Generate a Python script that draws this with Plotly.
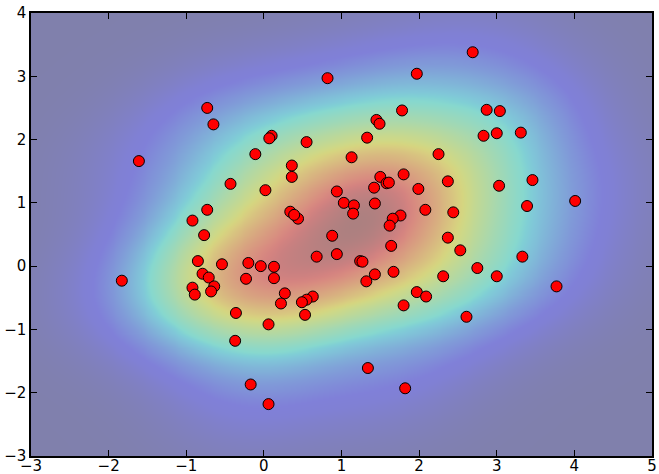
import numpy as np
import plotly.graph_objects as go

x_pts = [2.69, 0.82, 1.97, -0.73, -0.65, 2.87, 3.04, 1.78, 1.45, 1.49,
         2.83, 3.00, 3.31, 0.10, 0.07, 1.33, 0.55, -1.61, -0.11, 2.25,
         1.13, 0.36, 0.36, 1.80, 1.50, 1.58, 1.61, 2.37, -0.43, 1.42,
         3.46, 3.03, 1.99, 0.02, 0.94, 4.01, 1.03, 1.16, 1.43, 3.39,
         -0.73, 2.08, 2.44, 0.34, 0.44, 0.39, 1.15, 1.76, 1.66, -0.92,
         1.62, -0.77, 0.88, 2.37, 1.64, 2.53, 0.94, 0.68, -0.85, 1.24,
         1.27, -0.54, -0.20, -0.04, 0.13, -0.79, -0.71, -0.23, 0.13, 1.43,
         1.67, 1.32, 2.75, 3.33, 3.00, 2.31, 3.77, -1.83, -0.92, -0.64,
         -0.89, -0.68, 0.27, 1.97, 2.09, 0.63, 0.55, 0.49, 0.22, 1.80,
         0.53, 2.61, -0.36, 0.06, -0.37, 1.34, -0.17, 1.82, 0.06]
y_pts = [3.38, 2.97, 3.04, 2.50, 2.24, 2.47, 2.45, 2.46, 2.31, 2.25,
         2.06, 2.10, 2.11, 2.06, 2.02, 2.03, 1.96, 1.66, 1.77, 1.77,
         1.72, 1.59, 1.41, 1.45, 1.41, 1.31, 1.32, 1.34, 1.30, 1.24,
         1.36, 1.27, 1.22, 1.20, 1.18, 1.03, 1.00, 0.96, 0.99, 0.95,
         0.89, 0.89, 0.85, 0.86, 0.75, 0.81, 0.83, 0.80, 0.75, 0.72,
         0.64, 0.49, 0.48, 0.45, 0.32, 0.25, 0.19, 0.15, 0.08, 0.08,
         0.07, 0.03, 0.05, 0.00, -0.01, -0.12, -0.18, -0.20, -0.19, -0.13,
         -0.09, -0.24, -0.03, 0.15, -0.16, -0.16, -0.32, -0.23, -0.34, -0.32,
         -0.45, -0.40, -0.43, -0.41, -0.48, -0.48, -0.53, -0.57, -0.59, -0.62,
         -0.77, -0.80, -0.74, -0.92, -1.18, -1.61, -1.87, -1.93, -2.18]

x_ticks = [-3, -2, -1, 0, 1, 2, 3, 4, 5]
y_ticks = [-3, -2, -1, 0, 1, 2, 3, 4]

# Gaussian KDE evaluated on a grid
X = np.array(x_pts); Y = np.array(y_pts)
data = np.vstack([X, Y])
n = data.shape[1]
factor = n ** (-1.0 / 6) * 1.3
cov = np.cov(data) * factor ** 2
inv = np.linalg.inv(cov)
gx = np.linspace(-3, 5, 161)
gy = np.linspace(-3, 4, 141)
GX, GY = np.meshgrid(gx, gy)
pts = np.stack([GX.ravel(), GY.ravel()])
Z = np.zeros(pts.shape[1])
for i in range(n):
    d = pts - data[:, i:i+1]
    Z += np.exp(-0.5 * np.einsum('ij,ik,kj->j', d, inv, d))
Z = Z.reshape(GX.shape)

def jetc(v):
    r = np.interp(v, [0, 0.35, 0.66, 0.89, 1], [0, 0, 1, 1, 0.5])
    g = np.interp(v, [0, 0.125, 0.375, 0.64, 0.91, 1], [0, 0, 1, 1, 0, 0])
    b = np.interp(v, [0, 0.11, 0.34, 0.65, 1], [0.5, 1, 1, 0, 0])
    f = lambda c: int(round(128 + 88 * c))
    return f"rgb({f(r)},{f(g)},{f(b)})"

stops = np.linspace(0, 1, 41)
cscale = [[float(s), jetc(s)] for s in stops]

fig = go.Figure()
fig.add_trace(go.Heatmap(x=gx, y=gy, z=Z, colorscale=cscale, showscale=False,
                         zsmooth='best', hoverinfo='skip'))
fig.add_trace(go.Scatter(x=x_pts, y=y_pts, mode='markers',
                         marker=dict(color='#ff0000', size=11,
                                     line=dict(color='black', width=1)),
                         showlegend=False))

def lab(v):
    return ("\u2212" + str(abs(v))) if v < 0 else str(v)

axis_common = dict(showgrid=False, zeroline=False, showline=True, linecolor='black',
                   linewidth=1.5, mirror='ticks', ticks='inside', ticklen=6,
                   tickcolor='black', tickwidth=1, automargin=False,
                   tickfont=dict(family='DejaVu Sans', size=15, color='black'))
fig.update_xaxes(range=[-3, 5], tickvals=x_ticks, ticktext=[lab(v) for v in x_ticks],
                 ticklabelstandoff=-5, **axis_common)
fig.update_yaxes(range=[-3, 4], tickvals=y_ticks, ticktext=[lab(v) for v in y_ticks],
                 **axis_common)
fig.update_layout(width=659, height=474, margin=dict(l=31, r=7, t=13, b=18, autoexpand=False),
                  paper_bgcolor='white', plot_bgcolor='white')
fig.write_html("out.html", config={'displayModeBar': False},
               post_script="document.body.style.margin='0';document.body.style.overflow='hidden';")
